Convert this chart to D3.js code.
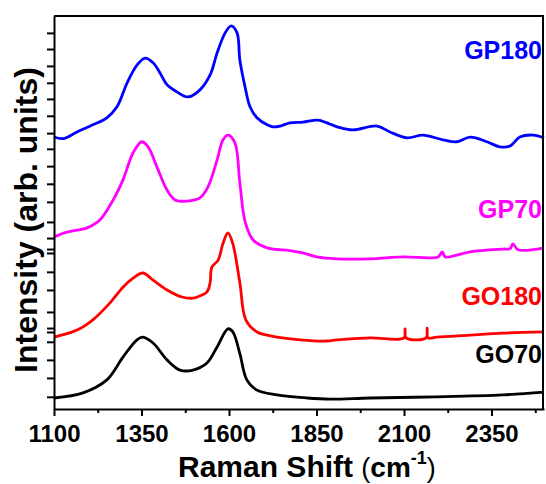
<!DOCTYPE html>
<html>
<head>
<meta charset="utf-8">
<script src="https://cdn.jsdelivr.net/npm/d3@7"></script>
<style>
  body { margin: 0; background: #fff; }
  svg { display: block; font-family: Arial, "Liberation Sans", sans-serif; }
  .axis path, .axis line { stroke: #000; stroke-width: 2; }
  .axis text { font-size: 24px; font-weight: bold; fill: #000; }
</style>
</head>
<body>
<svg width="546" height="484"></svg>
<script>
// Raman spectra, [shift (cm-1), intensity (arb.)]
const go70 = [
  [1100, 28], [1183, 41], [1251, 74], [1297, 132], [1337, 176], [1354, 183],
  [1383, 168], [1423, 125], [1460, 99], [1497, 99], [1537, 117], [1566, 158],
  [1597, 204], [1611, 196], [1631, 141], [1651, 74], [1680, 48], [1737, 36],
  [1823, 28], [1889, 25], [2003, 28], [2194, 31], [2383, 36], [2500, 43]
];
const go180 = [
  [1100, 183], [1166, 201], [1211, 227], [1260, 270], [1297, 310], [1326, 333],
  [1354, 346], [1383, 328], [1423, 303], [1466, 285], [1497, 282], [1509, 285],
  [1537, 298], [1546, 321], [1551, 361], [1569, 379], [1583, 422], [1597, 448],
  [1611, 420], [1631, 321], [1648, 227], [1680, 196], [1709, 188], [1737, 183],
  [1803, 176], [1880, 173], [1909, 176], [2003, 181], [2100, 181], [2103, 204],
  [2106, 181], [2163, 181], [2166, 206], [2169, 181], [2194, 183], [2289, 188],
  [2383, 193], [2500, 196]
];
const gp70 = [
  [1100, 438], [1137, 450], [1194, 461], [1231, 481], [1269, 532], [1297, 583],
  [1326, 652], [1351, 680], [1369, 667], [1394, 616], [1423, 557], [1446, 532],
  [1480, 529], [1517, 537], [1540, 565], [1566, 634], [1583, 685], [1597, 697],
  [1617, 677], [1631, 575], [1646, 477], [1669, 430], [1709, 410], [1774, 403],
  [1811, 397], [1851, 387], [1909, 382], [2003, 382], [2097, 387], [2197, 387],
  [2209, 400], [2218, 387], [2289, 400], [2383, 407], [2403, 408], [2411, 420],
  [2426, 405], [2480, 407], [2500, 410]
];
const gp180 = [
  [1100, 692], [1126, 688], [1166, 705], [1211, 723], [1251, 741], [1280, 769],
  [1309, 830], [1337, 875], [1360, 893], [1383, 881], [1403, 855], [1423, 825],
  [1451, 807], [1483, 794], [1517, 812], [1546, 850], [1566, 906], [1589, 957],
  [1606, 975], [1623, 957], [1631, 888], [1646, 819], [1660, 769], [1680, 741],
  [1709, 723], [1726, 718], [1746, 720], [1774, 728], [1811, 730], [1854, 735],
  [1880, 728], [1909, 718], [1954, 710], [2023, 720], [2060, 705], [2109, 690],
  [2154, 697], [2211, 685], [2251, 680], [2289, 692], [2337, 680], [2374, 667],
  [2403, 669], [2431, 692], [2469, 697], [2500, 690]
];

const seriesNames = ['GO70', 'GO180', 'GP70', 'GP180'];
const seriesColors = ['#000000', '#ff0000', '#ff00ff', '#0000ff'];
const seriesData = [go70, go180, gp70, gp180];
// where each name sits, in data units
const labelY = [118, 265, 487, 890];

const xTicks = [1100, 1350, 1600, 1850, 2100, 2350];
const xMinor = [1225, 1475, 1725, 1975, 2225, 2475];
const yTicks = [957, 916, 873, 830, 789, 746, 702, 662, 618, 573, 527, 476,
  435, 407, 397, 349, 303, 247, 206, 196, 171, 125, 79, 31];

/**
 * Set stuff up.
 */
const margin = {top: 16, right: 2, bottom: 75, left: 54};
const width = 546, height = 484;
const svg = d3.select('svg');

const x = d3.scaleLinear()
  .domain([1100, 2500])
  .range([margin.left, width - margin.right]);
const y = d3.scaleLinear()
  .domain([0, 1000])
  .range([height - margin.bottom, margin.top]);

/**
 * Lines.
 */
const line = d3.line()
  .x(d => x(d[0]))
  .y(d => y(d[1]))
  .curve(d3.curveCatmullRom.alpha(0.5));

svg.append('g')
  .selectAll('path')
  .data(seriesData)
  .join('path')
  .attr('d', line)
  .attr('fill', 'none')
  .attr('stroke', (d, i) => seriesColors[i])
  .attr('stroke-width', 2.8)
  .attr('stroke-linejoin', 'round');

/**
 * Axes.
 */
svg.append('g')
  .attr('class', 'axis')
  .attr('transform', `translate(0,${y(0)})`)
  .call(d3.axisBottom(x).tickValues(xMinor).tickSize(4).tickFormat(''))
  .call(g => g.select('.domain').remove());

svg.append('g')
  .attr('class', 'axis')
  .attr('transform', `translate(0,${y(0)})`)
  .call(d3.axisBottom(x).tickValues(xTicks).tickSize(7).tickSizeOuter(0)
    .tickPadding(9).tickFormat(d3.format('d')));

svg.append('g')
  .attr('class', 'axis')
  .attr('transform', `translate(${x(1100)},0)`)
  .call(d3.axisLeft(y).tickValues(yTicks).tickSize(7).tickSizeOuter(0).tickFormat(''));

// frame top + right
svg.append('path')
  .attr('d', `M${x(1100)},${y(1000)}H${x(2500) - 1}V${y(0)}`)
  .attr('fill', 'none')
  .attr('stroke', '#000')
  .attr('stroke-width', 2);

/**
 * Labels.
 */
svg.append('g')
  .selectAll('text')
  .data(seriesNames)
  .join('text')
  .attr('x', 542)
  .attr('y', (d, i) => y(labelY[i]))
  .attr('text-anchor', 'end')
  .attr('font-size', 25)
  .attr('font-weight', 'bold')
  .attr('fill', (d, i) => seriesColors[i])
  .text(d => d);

const xt = svg.append('text')
  .attr('x', 178)
  .attr('y', 477)
  .attr('font-weight', 'bold')
  .attr('font-size', 30);
xt.append('tspan').text('Raman Shift ');
xt.append('tspan').attr('font-size', 27).attr('font-weight', 'normal').text('(');
xt.append('tspan').attr('font-size', 28).text('cm');
xt.append('tspan').attr('font-size', 18).attr('dy', -13).text('-1');
xt.append('tspan').attr('font-size', 27).attr('font-weight', 'normal').attr('dy', 13).text(')');

svg.append('text')
  .attr('transform', 'translate(37,220) rotate(-90)')
  .attr('text-anchor', 'middle')
  .attr('font-weight', 'bold')
  .attr('font-size', 32)
  .text('Intensity (arb. units)');
</script>
</body>
</html>
